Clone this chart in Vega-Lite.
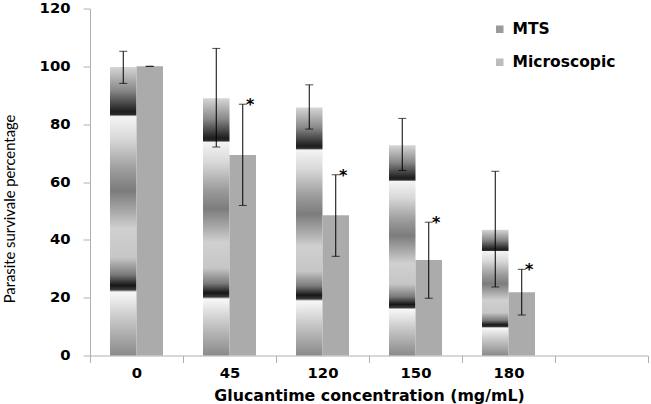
{
  "$schema": "https://vega.github.io/schema/vega-lite/v6.json",
  "width": 558,
  "height": 347,
  "autosize": {"type": "none"},
  "padding": {"left": 90, "top": 8.5, "right": 3, "bottom": 48.5},
  "background": "white",
  "config": {"view": {"stroke": null}, "font": "DejaVu Sans"},
  "data": {
    "values": [
      {"conc": "0", "series": "MTS", "value": 99.8, "lo": 94.1, "hi": 105.2, "sig": ""},
      {"conc": "0", "series": "Microscopic", "value": 100, "lo": 100, "hi": 100, "sig": ""},
      {"conc": "45", "series": "MTS", "value": 89, "lo": 72.1, "hi": 106.2, "sig": ""},
      {"conc": "45", "series": "Microscopic", "value": 69.3, "lo": 51.9, "hi": 86.9, "sig": "*"},
      {"conc": "120", "series": "MTS", "value": 85.8, "lo": 78.3, "hi": 93.6, "sig": ""},
      {"conc": "120", "series": "Microscopic", "value": 48.5, "lo": 34.3, "hi": 62.5, "sig": "*"},
      {"conc": "150", "series": "MTS", "value": 72.7, "lo": 64.0, "hi": 82.0, "sig": ""},
      {"conc": "150", "series": "Microscopic", "value": 33, "lo": 19.8, "hi": 46.1, "sig": "*"},
      {"conc": "180", "series": "MTS", "value": 43.5, "lo": 23.7, "hi": 63.7, "sig": ""},
      {"conc": "180", "series": "Microscopic", "value": 21.9, "lo": 14.0, "hi": 29.8, "sig": "*"}
    ]
  },
  "encoding": {
    "x": {
      "field": "conc",
      "type": "nominal",
      "scale": {"domain": ["0", "45", "120", "150", "180", " "], "paddingInner": 0, "paddingOuter": 0},
      "title": "Glucantime concentration (mg/mL)",
      "axis": {
        "labelAngle": 0,
        "tickBand": "extent",
        "tickSize": 7,
        "tickColor": "#b0b0b0",
        "domainColor": "#b0b0b0",
        "labelFont": "DejaVu Sans",
        "labelFontWeight": "bold",
        "labelFontSize": 14.8,
        "labelColor": "black",
        "labelPadding": 3,
        "titleFont": "DejaVu Sans",
        "titleFontWeight": "bold",
        "titleFontSize": 15.8,
        "titleColor": "black",
        "titlePadding": 8
      }
    },
    "xOffset": {
      "field": "series",
      "type": "nominal",
      "scale": {"domain": ["MTS", "Microscopic"], "paddingInner": 0, "paddingOuter": 0.755}
    }
  },
  "layer": [
    {
      "mark": {"type": "bar", "opacity": 0},
      "encoding": {
        "y": {
          "field": "value",
          "type": "quantitative",
          "scale": {"domain": [0, 120], "nice": false},
          "title": "Parasite survivale percentage",
          "axis": {
            "values": [0, 20, 40, 60, 80, 100, 120],
            "grid": false,
            "tickSize": 7,
            "tickColor": "#b0b0b0",
            "domainColor": "#b0b0b0",
            "labelFont": "DejaVu Sans",
            "labelFontWeight": "bold",
            "labelFontSize": 14.8,
            "labelColor": "black",
            "labelPadding": 13,
            "titleFont": "Lato",
            "titleFontWeight": "normal",
            "titleFontSize": 14.8,
            "titleColor": "black",
            "titleAngle": 270,
            "titleX": -80,
            "titleY": 200,
            "titleAlign": "center",
            "titleBaseline": "middle"
          }
        },
        "color": {
          "field": "series",
          "type": "nominal",
          "scale": {"domain": ["MTS", "Microscopic"], "range": ["#9a9a9a", "#bcbcbc"]},
          "legend": {
            "title": null,
            "orient": "none",
            "legendX": 402,
            "legendY": 13,
            "symbolType": "square",
            "symbolSize": 56,
            "symbolOpacity": 1,
            "symbolStrokeWidth": 0,
            "labelFont": "DejaVu Sans",
            "labelFontWeight": "bold",
            "labelFontSize": 15.5,
            "labelColor": "black",
            "labelOffset": 5,
            "rowPadding": 16
          }
        }
      }
    },
    {
      "mark": {"type": "bar"},
      "encoding": {
        "y": {"field": "value", "type": "quantitative"},
        "fill": {
          "condition": {
            "test": "datum.series === 'MTS'",
            "value": {
              "gradient": "linear",
              "x1": 0, "y1": 0, "x2": 0, "y2": 1,
              "stops": [
                {"offset": 0, "color": "#d6d6d6"},
                {"offset": 0.08, "color": "#8a8a8a"},
                {"offset": 0.155, "color": "#1e1e1e"},
                {"offset": 0.165, "color": "#2a2a2a"},
                {"offset": 0.172, "color": "#f4f4f4"},
                {"offset": 0.25, "color": "#d8d8d8"},
                {"offset": 0.36, "color": "#9a9a9a"},
                {"offset": 0.43, "color": "#7c7c7c"},
                {"offset": 0.5, "color": "#a8a8a8"},
                {"offset": 0.56, "color": "#d0d0d0"},
                {"offset": 0.66, "color": "#c6c6c6"},
                {"offset": 0.72, "color": "#7a7a7a"},
                {"offset": 0.757, "color": "#161616"},
                {"offset": 0.772, "color": "#3a3a3a"},
                {"offset": 0.78, "color": "#f8f8f8"},
                {"offset": 0.88, "color": "#c4c4c4"},
                {"offset": 1, "color": "#8a8a8a"}
              ]
            }
          },
          "value": "#ababab"
        }
      }
    },
    {
      "mark": {"type": "rule", "color": "black", "strokeWidth": 1},
      "encoding": {
        "y": {"field": "lo", "type": "quantitative"},
        "y2": {"field": "hi"}
      }
    },
    {
      "mark": {"type": "tick", "color": "black", "size": 8, "thickness": 1},
      "encoding": {"y": {"field": "lo", "type": "quantitative"}}
    },
    {
      "mark": {"type": "tick", "color": "black", "size": 8, "thickness": 1},
      "encoding": {"y": {"field": "hi", "type": "quantitative"}}
    },
    {
      "transform": [{"filter": "datum.sig !== ''"}],
      "mark": {"type": "text", "font": "DejaVu Sans", "fontWeight": "bold", "fontSize": 16, "align": "center", "baseline": "alphabetic", "dx": 7.5, "dy": 6, "color": "black"},
      "encoding": {
        "y": {"field": "hi", "type": "quantitative"},
        "text": {"field": "sig"}
      }
    }
  ]
}
